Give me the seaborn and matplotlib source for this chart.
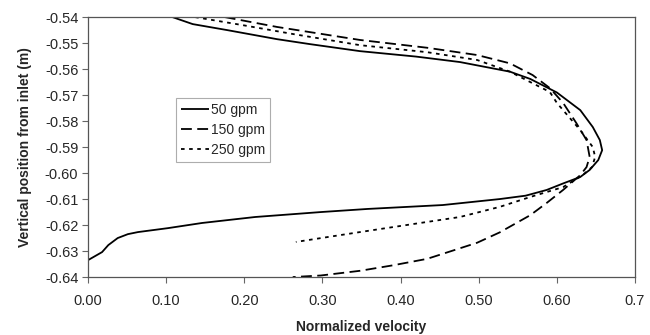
import matplotlib
matplotlib.use("Agg")
import matplotlib.pyplot as plt
import seaborn as sns
import pandas as pd

# ---- data ----
v50 = [0.108, 0.134, 0.178, 0.242, 0.284, 0.348, 0.420, 0.476, 0.540, 0.566, 0.600,
       0.630, 0.646, 0.655, 0.658, 0.653, 0.642, 0.630, 0.608, 0.587, 0.560, 0.527,
       0.454, 0.358, 0.298, 0.214, 0.146, 0.102, 0.064, 0.051, 0.038, 0.026, 0.018, 0.000]
y50 = [-0.5400, -0.5427, -0.5450, -0.5485, -0.5504, -0.5531, -0.5552, -0.5573, -0.5610, -0.5638, -0.5690,
       -0.5758, -0.5823, -0.5873, -0.5912, -0.5950, -0.5988, -0.6015, -0.6040, -0.6065, -0.6087, -0.6100,
       -0.6123, -0.6138, -0.6150, -0.6169, -0.6192, -0.6212, -0.6227, -0.6235, -0.6250, -0.6277, -0.6304, -0.6335]

v150 = [0.175, 0.242, 0.348, 0.434, 0.498, 0.540, 0.569, 0.591, 0.608, 0.625, 0.638,
        0.642, 0.638, 0.630, 0.608, 0.587, 0.566, 0.527, 0.498, 0.465, 0.434,
        0.390, 0.348, 0.298, 0.262]
y150 = [-0.5400, -0.5438, -0.5488, -0.5518, -0.5546, -0.5578, -0.5623, -0.5673, -0.5730, -0.5808, -0.5873,
        -0.5938, -0.5977, -0.6008, -0.6065, -0.6115, -0.6162, -0.6228, -0.6268, -0.6300, -0.6330,
        -0.6355, -0.6376, -0.6394, -0.6400]

v250 = [0.137, 0.198, 0.262, 0.348, 0.434, 0.498, 0.540, 0.566, 0.591, 0.600, 0.630,
        0.646, 0.649, 0.645, 0.633, 0.608, 0.566, 0.527, 0.476, 0.434, 0.348, 0.266]
y250 = [-0.5400, -0.5431, -0.5465, -0.5508, -0.5535, -0.5565, -0.5610, -0.5650, -0.5688, -0.5730, -0.5835,
        -0.5900, -0.5938, -0.5977, -0.6008, -0.6054, -0.6092, -0.6130, -0.6169, -0.6188, -0.6227, -0.6265]

series_labels = ["50 gpm", "150 gpm", "250 gpm"]
xticks = [0.0, 0.1, 0.2, 0.3, 0.4, 0.5, 0.6, 0.7]
xticklabels = ["0.00", "0.10", "0.20", "0.30", "0.40", "0.50", "0.60", "0.7"]
yticks = [-0.54, -0.55, -0.56, -0.57, -0.58, -0.59, -0.60, -0.61, -0.62, -0.63, -0.64]
yticklabels = ["-0.54", "-0.55", "-0.56", "-0.57", "-0.58", "-0.59", "-0.60", "-0.61", "-0.62", "-0.63", "-0.64"]

sns.set_style("white")
plt.rcParams["font.family"] = ["Liberation Sans", "DejaVu Sans"]

fig = plt.figure(figsize=(6.5, 3.35), dpi=100)
ax = fig.add_axes([0.1354, 0.173, 0.8415, 0.776])

styles = [(0, ()), (0, (6, 3)), (0, (2, 2.5))]
for vx, vy, lab, ls in zip([v50, v150, v250], [y50, y150, y250], series_labels, styles):
    df = pd.DataFrame({"v": vx, "y": vy})
    sns.lineplot(data=df, x="v", y="y", sort=False, estimator=None, ax=ax,
                 color="black", linewidth=1.3, linestyle=ls, label=lab)

ax.set_xlim(0, 0.7)
ax.set_ylim(-0.64, -0.54)
ax.set_xticks(xticks)
ax.set_xticklabels(xticklabels)
ax.set_yticks(yticks)
ax.set_yticklabels(yticklabels)
ax.tick_params(axis="both", direction="out", length=4, width=0.8, color="#666666",
               labelsize=10.5, pad=3, bottom=True, left=True)
ax.tick_params(axis="x", pad=8)
for s in ax.spines.values():
    s.set_color("#555555")
    s.set_linewidth(0.9)

ax.set_xlabel("Normalized velocity", fontsize=10, fontweight="bold", labelpad=9)
ax.set_ylabel("Vertical position from inlet (m)", fontsize=10, fontweight="bold", labelpad=9)

leg = ax.legend(loc="upper left", bbox_to_anchor=(0.161, 0.688), fontsize=10,
                frameon=True, fancybox=False, handlelength=2.0, handletextpad=0.15,
                borderpad=0.35, labelspacing=0.42, borderaxespad=0)
leg.get_frame().set_edgecolor("#999999")
leg.get_frame().set_linewidth(0.8)

fig.savefig("out.png", dpi=100)
